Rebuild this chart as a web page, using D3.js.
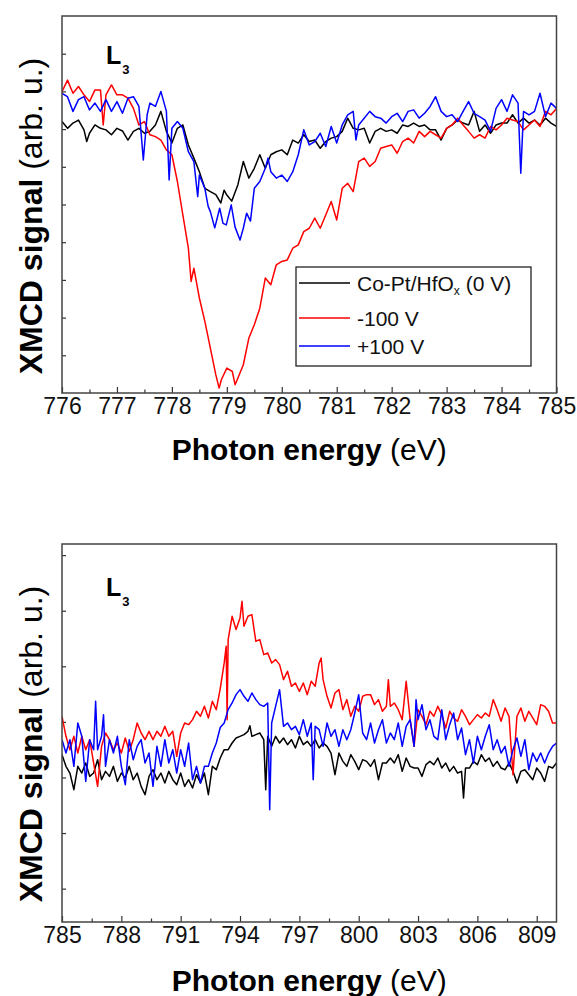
<!DOCTYPE html>
<html><head><meta charset="utf-8">
<script src="https://cdn.jsdelivr.net/npm/d3@7"></script>
<style>
body{margin:0;background:#fff}
svg{display:block}
text{font-family:"Liberation Sans",Arial,Helvetica,sans-serif}
</style>
</head><body>
<svg id="chart" width="577" height="996"></svg>
<script>
// ---------- data ----------
const seriesNames = ["Co-Pt/HfO", "-100 V", "+100 V"];
const seriesColors = ["#000000", "#ff0000", "#0000ff"];

const topTicks = [776, 777, 778, 779, 780, 781, 782, 783, 784, 785];
const topMinorTicks = [776.5, 777.5, 778.5, 779.5, 780.5, 781.5, 782.5, 783.5, 784.5];
const topYTicks = [1, 2, 3, 4, 5, 6, 7, 8, 9];
const bottomTicks = [785, 788, 791, 794, 797, 800, 803, 806, 809];
const bottomMinorTicks = [786.5, 789.5, 792.5, 795.5, 798.5, 801.5, 804.5, 807.5];
const bottomYTicks = [0, 1, 2, 3, 4, 5, 6];

// L3 edge (776-785 eV)
const topBlack = [[776.0,7.20],[776.1,7.02],[776.2,7.16],[776.3,7.24],[776.4,6.98],[776.45,6.67],[776.5,6.89],[776.6,7.11],[776.7,7.02],[776.8,6.98],[776.9,6.85],[777.0,7.02],[777.1,6.95],[777.2,6.71],[777.3,6.94],[777.4,7.02],[777.5,6.89],[777.6,6.94],[777.7,7.11],[777.8,7.47],[777.9,6.94],[778.0,6.63],[778.1,7.02],[778.2,7.11],[778.3,6.58],[778.4,6.23],[778.5,5.87],[778.6,5.43],[778.7,5.34],[778.8,5.26],[778.89,5.04],[778.95,5.38],[779.0,5.25],[779.09,5.09],[779.2,5.52],[779.3,6.14],[779.4,5.7],[779.5,5.96],[779.6,6.32],[779.7,5.96],[779.8,6.32],[779.9,6.4],[780.0,6.45],[780.1,6.32],[780.2,6.71],[780.3,6.63],[780.4,6.85],[780.5,6.67],[780.6,6.71],[780.7,6.49],[780.8,6.67],[780.9,6.76],[781.0,6.8],[781.1,6.94],[781.2,7.29],[781.3,7.02],[781.4,6.98],[781.5,7.02],[781.6,6.63],[781.7,6.94],[781.8,7.02],[781.9,6.94],[782.0,6.98],[782.1,6.89],[782.2,7.11],[782.3,7.07],[782.4,7.16],[782.5,7.07],[782.6,7.11],[782.7,6.98],[782.8,6.98],[782.9,6.71],[783.0,7.02],[783.1,7.11],[783.2,7.24],[783.3,7.16],[783.4,7.11],[783.5,7.47],[783.6,6.94],[783.7,7.11],[783.8,6.89],[783.9,7.11],[784.0,7.16],[784.1,7.16],[784.2,7.38],[784.3,7.16],[784.4,7.29],[784.5,7.16],[784.6,7.24],[784.7,7.11],[784.8,7.29],[784.9,7.16],[785.0,7.07]];
const topRed = [[776.0,7.99],[776.1,8.3],[776.2,7.95],[776.3,8.13],[776.4,7.91],[776.5,7.73],[776.6,8.04],[776.7,8.04],[776.75,7.11],[776.8,7.91],[776.9,8.17],[777.0,7.91],[777.1,7.91],[777.2,7.82],[777.3,7.55],[777.4,7.11],[777.5,7.2],[777.6,6.85],[777.7,6.8],[777.8,6.71],[777.9,6.45],[778.0,6.32],[778.1,5.61],[778.2,4.72],[778.3,3.84],[778.35,2.96],[778.4,3.31],[778.5,2.52],[778.6,1.9],[778.7,1.19],[778.8,0.48],[778.86,0.13],[778.9,0.35],[779.0,0.66],[779.1,0.57],[779.15,0.22],[779.2,0.39],[779.3,0.75],[779.4,1.45],[779.5,1.81],[779.6,2.25],[779.7,3.05],[779.8,2.87],[779.9,3.4],[780.0,3.49],[780.1,3.53],[780.2,3.84],[780.3,3.93],[780.4,4.28],[780.5,4.37],[780.6,4.64],[780.7,4.37],[780.8,4.72],[780.9,5.08],[781.0,4.59],[781.1,5.43],[781.2,5.56],[781.3,5.34],[781.4,6.14],[781.5,6.23],[781.6,6.01],[781.7,6.14],[781.8,6.49],[781.9,6.54],[782.0,6.58],[782.1,6.36],[782.2,6.67],[782.3,6.76],[782.4,6.63],[782.5,6.94],[782.6,6.8],[782.7,6.94],[782.8,6.85],[782.9,6.76],[783.0,7.02],[783.1,7.11],[783.2,7.29],[783.3,7.11],[783.4,6.94],[783.5,6.76],[783.6,6.85],[783.7,6.76],[783.8,7.07],[783.9,6.98],[784.0,7.11],[784.1,7.29],[784.2,7.24],[784.3,7.2],[784.4,6.98],[784.5,7.11],[784.6,7.24],[784.7,7.07],[784.8,7.47],[784.9,7.38],[785.0,7.55]];
const topBlue = [[776.0,7.95],[776.1,7.86],[776.2,7.47],[776.3,7.78],[776.4,7.86],[776.5,7.51],[776.6,7.69],[776.7,7.47],[776.8,7.78],[776.9,7.47],[777.0,7.73],[777.1,7.42],[777.2,7.82],[777.3,7.86],[777.4,7.6],[777.48,6.18],[777.55,7.38],[777.6,7.69],[777.7,7.6],[777.8,8.0],[777.9,7.47],[777.95,5.65],[778.0,7.02],[778.1,7.2],[778.2,7.02],[778.3,6.4],[778.4,6.14],[778.47,5.21],[778.5,5.78],[778.6,5.43],[778.66,4.95],[778.7,4.81],[778.78,4.38],[778.87,4.9],[778.93,4.5],[778.99,4.46],[779.08,4.99],[779.15,4.4],[779.24,4.06],[779.3,4.37],[779.36,4.77],[779.43,4.56],[779.5,5.43],[779.6,5.61],[779.7,5.96],[779.75,6.23],[779.8,5.87],[779.9,5.7],[780.0,5.78],[780.1,5.61],[780.2,5.87],[780.3,6.32],[780.4,6.98],[780.5,6.58],[780.6,6.67],[780.7,6.89],[780.8,6.54],[780.9,7.07],[781.0,6.63],[781.1,7.11],[781.2,7.38],[781.3,7.47],[781.35,6.71],[781.4,7.11],[781.5,7.29],[781.6,7.47],[781.7,7.33],[781.8,7.29],[781.9,7.16],[782.0,7.33],[782.1,7.42],[782.2,7.2],[782.3,7.47],[782.4,7.51],[782.5,7.29],[782.6,7.42],[782.7,7.6],[782.8,7.86],[782.9,7.47],[783.0,7.33],[783.1,7.38],[783.2,7.2],[783.3,7.47],[783.4,7.73],[783.5,7.42],[783.6,7.33],[783.7,7.24],[783.8,6.94],[783.9,7.55],[784.0,7.78],[784.1,7.47],[784.2,7.91],[784.3,7.69],[784.35,5.83],[784.4,7.47],[784.5,7.38],[784.6,7.47],[784.7,7.95],[784.8,7.33],[784.9,7.69],[785.0,7.55]];

// 785-810 eV
const botBlack = [[785.0,2.41],[785.2,2.2],[785.4,2.08],[785.6,1.78],[785.8,2.2],[786.0,2.08],[786.2,2.26],[786.4,2.02],[786.6,2.08],[786.8,2.32],[787.0,1.96],[787.2,2.11],[787.4,2.02],[787.6,2.2],[787.8,1.93],[788.0,2.08],[788.2,1.99],[788.4,2.2],[788.6,1.96],[788.8,2.08],[789.0,1.84],[789.2,1.69],[789.4,2.02],[789.6,2.14],[789.8,1.96],[790.0,2.08],[790.2,1.9],[790.4,2.11],[790.6,1.96],[790.8,1.87],[791.0,2.08],[791.2,1.84],[791.4,1.96],[791.6,1.81],[791.8,2.05],[792.0,1.9],[792.2,2.08],[792.4,1.69],[792.6,2.2],[792.8,2.14],[793.0,2.35],[793.2,2.5],[793.4,2.5],[793.6,2.62],[793.8,2.71],[794.0,2.74],[794.2,2.77],[794.4,2.83],[794.5,2.93],[794.6,2.74],[794.8,2.77],[795.0,2.8],[795.2,2.68],[795.3,1.78],[795.4,2.74],[795.6,2.56],[795.8,2.74],[796.0,2.62],[796.2,2.71],[796.4,2.59],[796.6,2.68],[796.8,2.53],[797.0,2.74],[797.2,2.59],[797.4,2.65],[797.6,2.56],[797.8,2.68],[798.0,2.53],[798.2,2.62],[798.4,2.56],[798.6,2.44],[798.8,2.05],[799.0,2.44],[799.2,2.29],[799.4,2.2],[799.6,2.41],[799.8,2.29],[800.0,2.14],[800.2,2.32],[800.4,2.29],[800.6,2.2],[800.8,2.32],[801.0,1.96],[801.2,2.26],[801.4,2.26],[801.6,2.35],[801.8,2.26],[802.0,2.41],[802.2,2.11],[802.4,2.35],[802.6,2.2],[802.8,2.17],[803.0,2.17],[803.2,2.02],[803.4,2.23],[803.6,2.29],[803.8,2.23],[804.0,2.35],[804.2,2.17],[804.4,2.26],[804.6,2.11],[804.8,2.2],[805.0,2.08],[805.2,2.11],[805.3,1.63],[805.4,2.17],[805.6,2.17],[805.8,2.29],[806.0,2.23],[806.2,2.41],[806.4,2.29],[806.6,2.35],[806.8,2.2],[807.0,2.29],[807.2,2.17],[807.4,2.14],[807.6,2.26],[807.8,2.11],[808.0,1.9],[808.2,2.11],[808.4,2.14],[808.6,2.05],[808.8,1.96],[809.0,2.17],[809.2,2.08],[809.4,1.93],[809.6,2.2],[809.8,2.17],[810.0,2.26]];
const botRed = [[785.0,3.1],[785.2,2.74],[785.4,2.5],[785.6,2.74],[785.8,2.44],[786.0,2.74],[786.2,2.5],[786.4,2.68],[786.6,2.26],[786.8,1.84],[787.0,2.56],[787.2,2.8],[787.4,2.68],[787.6,2.5],[787.8,2.62],[788.0,2.44],[788.2,2.71],[788.4,2.47],[788.6,2.68],[788.8,2.98],[789.0,2.8],[789.2,2.68],[789.4,2.83],[789.6,2.68],[789.8,2.83],[790.0,2.74],[790.2,2.92],[790.4,2.74],[790.6,2.83],[790.8,2.38],[791.0,2.8],[791.2,2.98],[791.4,2.95],[791.6,3.04],[791.8,3.19],[792.0,3.1],[792.2,3.28],[792.4,3.07],[792.6,3.37],[792.8,3.22],[793.0,3.6],[793.2,4.06],[793.3,4.36],[793.35,3.04],[793.4,4.48],[793.6,4.9],[793.8,4.66],[794.0,4.87],[794.1,5.17],[794.2,4.72],[794.4,4.9],[794.6,4.93],[794.8,4.45],[795.0,4.48],[795.2,4.21],[795.4,4.24],[795.6,4.06],[795.8,4.12],[796.0,4.03],[796.2,3.76],[796.4,3.91],[796.6,3.64],[796.8,3.7],[797.0,3.55],[797.2,3.7],[797.4,3.49],[797.6,3.73],[797.8,3.64],[798.0,4.06],[798.1,4.15],[798.2,3.76],[798.4,3.46],[798.6,3.25],[798.8,3.52],[799.0,3.58],[799.2,3.22],[799.4,3.4],[799.6,3.1],[799.8,3.28],[800.0,3.19],[800.2,3.46],[800.4,3.49],[800.6,3.49],[800.8,3.31],[801.0,3.4],[801.2,3.19],[801.4,3.28],[801.5,3.76],[801.6,3.28],[801.8,3.34],[802.0,3.22],[802.2,3.04],[802.4,3.73],[802.6,3.04],[802.8,2.56],[803.0,3.22],[803.2,3.1],[803.4,2.95],[803.6,3.19],[803.8,3.1],[804.0,3.28],[804.2,3.13],[804.4,2.89],[804.6,3.19],[804.8,3.07],[805.0,3.01],[805.2,3.22],[805.4,3.1],[805.6,2.95],[805.8,3.04],[806.0,3.13],[806.2,3.07],[806.4,3.16],[806.6,3.1],[806.8,3.4],[807.0,3.22],[807.2,3.01],[807.4,3.25],[807.6,3.1],[807.8,2.05],[808.0,3.1],[808.2,3.25],[808.4,3.01],[808.6,3.19],[808.8,3.07],[809.0,2.95],[809.2,3.31],[809.4,3.28],[809.6,3.19],[809.8,2.98],[810.0,2.98]];
const botBlue = [[785.0,2.68],[785.2,2.44],[785.4,2.68],[785.6,2.2],[785.8,2.98],[786.0,2.74],[786.2,1.93],[786.4,2.68],[786.6,2.5],[786.7,3.37],[786.8,2.5],[787.0,2.74],[787.1,3.13],[787.2,2.2],[787.4,2.68],[787.6,2.44],[787.8,2.74],[788.0,2.2],[788.2,1.87],[788.4,2.68],[788.6,2.32],[788.8,2.56],[789.0,2.68],[789.2,2.26],[789.4,2.44],[789.6,1.84],[789.8,2.56],[790.0,2.2],[790.2,2.68],[790.4,2.26],[790.6,2.5],[790.8,2.08],[791.0,2.5],[791.2,2.2],[791.4,2.62],[791.6,1.96],[791.8,2.2],[792.0,1.9],[792.2,2.2],[792.4,2.2],[792.6,2.44],[792.8,2.62],[793.0,2.9],[793.2,2.98],[793.4,3.22],[793.6,3.34],[793.8,3.49],[794.0,3.58],[794.2,3.46],[794.4,3.37],[794.6,3.52],[794.8,3.4],[795.0,3.31],[795.2,3.28],[795.4,3.34],[795.5,1.42],[795.6,2.98],[795.8,3.28],[796.0,3.58],[796.2,2.92],[796.4,2.98],[796.6,2.86],[796.8,2.92],[797.0,2.77],[797.2,3.04],[797.4,2.74],[797.6,2.98],[797.7,1.96],[797.8,2.92],[798.0,2.86],[798.2,2.56],[798.4,2.98],[798.6,2.74],[798.8,2.86],[799.0,2.56],[799.2,2.86],[799.4,2.68],[799.6,2.86],[799.8,3.16],[800.0,3.49],[800.2,2.8],[800.4,2.68],[800.6,2.98],[800.8,2.62],[801.0,2.86],[801.2,3.04],[801.4,2.62],[801.6,2.8],[801.8,2.68],[802.0,2.98],[802.2,2.56],[802.4,2.92],[802.6,3.04],[802.8,2.56],[802.9,3.4],[803.0,3.04],[803.2,3.31],[803.4,2.86],[803.6,3.04],[803.8,2.74],[804.0,2.68],[804.2,3.22],[804.4,2.68],[804.6,2.95],[804.8,3.16],[805.0,2.68],[805.2,2.89],[805.4,2.41],[805.6,2.68],[805.8,2.26],[806.0,2.74],[806.2,2.5],[806.4,2.74],[806.6,2.95],[806.8,2.5],[807.0,2.68],[807.2,2.44],[807.4,2.56],[807.6,2.2],[807.8,2.5],[808.0,2.71],[808.2,2.38],[808.4,2.68],[808.6,2.14],[808.8,2.44],[809.0,2.29],[809.2,2.44],[809.4,2.26],[809.6,2.44],[809.8,2.56],[810.0,2.62]];

// ---------- layout ----------
const svg = d3.select("#chart");
const panels = [
  {xDomain:[776,785], yDomain:[0,10], left:62, right:556.5, top:16, bottom:393,
   ticks:topTicks, minor:topMinorTicks, yTicks:topYTicks,
   series:[topBlack, topRed, topBlue], legend:true,
   titleY:460, yTitleCenter:216, label:{x:106, y:64, size:25, sub:13}},
  {xDomain:[785,810], yDomain:[-0.6,6.2], left:62, right:556.5, top:544, bottom:922,
   ticks:bottomTicks, minor:bottomMinorTicks, yTicks:bottomYTicks,
   series:[botBlack, botRed, botBlue], legend:false,
   titleY:991, yTitleCenter:744, label:{x:106, y:596, size:25, sub:13}}
];

panels.forEach((p, i) => {
  const x = d3.scaleLinear().domain(p.xDomain).range([p.left, p.right]);
  const y = d3.scaleLinear().domain(p.yDomain).range([p.bottom, p.top]);
  const g = svg.append("g");

  g.append("clipPath").attr("id", "clip" + i).append("rect")
    .attr("x", p.left).attr("y", p.top)
    .attr("width", p.right - p.left).attr("height", p.bottom - p.top);

  // minor x ticks
  g.append("g").attr("transform", `translate(0,${p.bottom})`)
    .call(d3.axisBottom(x).tickValues(p.minor).tickSize(-3.5).tickFormat(""))
    .call(a => a.select(".domain").remove())
    .call(a => a.selectAll("line").attr("stroke", "#333").attr("stroke-width", 1.2));
  // major x ticks + labels
  g.append("g").attr("transform", `translate(0,${p.bottom})`)
    .call(d3.axisBottom(x).tickValues(p.ticks).tickSize(-6).tickPadding(5).tickFormat(d3.format("d")))
    .call(a => a.select(".domain").remove())
    .call(a => a.selectAll("line").attr("stroke", "#333").attr("stroke-width", 1.2))
    .call(a => a.selectAll("text").attr("font-size", "23px").attr("fill", "#111")
      .attr("font-family", '"Liberation Sans",Arial,sans-serif'));
  // y ticks (no labels)
  g.append("g").attr("transform", `translate(${p.left},0)`)
    .call(d3.axisLeft(y).tickValues(p.yTicks).tickSize(-4).tickFormat(""))
    .call(a => a.select(".domain").remove())
    .call(a => a.selectAll("line").attr("stroke", "#333").attr("stroke-width", 1.2));

  // data lines
  const line = d3.line().x(d => x(d[0])).y(d => y(d[1]));
  const lines = g.append("g").attr("clip-path", `url(#clip${i})`);
  p.series.forEach((s, k) => {
    lines.append("path").datum(s).attr("d", line)
      .attr("fill", "none").attr("stroke", seriesColors[k])
      .attr("stroke-width", 1.5).attr("stroke-linejoin", "round");
  });

  // frame
  g.append("rect").attr("x", p.left).attr("y", p.top)
    .attr("width", p.right - p.left).attr("height", p.bottom - p.top)
    .attr("fill", "none").attr("stroke", "#444").attr("stroke-width", 1.5);

  // L3 label
  const lt = g.append("text").attr("x", p.label.x).attr("y", p.label.y)
    .attr("font-weight", "bold").attr("font-size", p.label.size + "px").attr("fill", "#000");
  lt.append("tspan").text("L");
  lt.append("tspan").attr("font-size", p.label.sub + "px").attr("dx", 1)
    .attr("dy", p.label.sub * 0.75).text("3");

  // x title
  const xt = g.append("text").attr("x", (p.left + p.right) / 2).attr("y", p.titleY)
    .attr("text-anchor", "middle").attr("font-size", "30px").attr("fill", "#000");
  xt.append("tspan").attr("font-weight", "bold").text("Photon energy");
  xt.append("tspan").text(" (eV)");

  // y title
  const yt = g.append("text")
    .attr("transform", `translate(42,${p.yTitleCenter}) rotate(-90)`)
    .attr("text-anchor", "middle").attr("font-size", "32px").attr("fill", "#000");
  yt.append("tspan").attr("font-weight", "bold").text("XMCD signal");
  yt.append("tspan").text(" (arb. u.)");

  // legend
  if (p.legend) {
    const lg = g.append("g");
    lg.append("rect").attr("x", 296).attr("y", 267).attr("width", 235).attr("height", 99)
      .attr("fill", "#fff").attr("stroke", "#222").attr("stroke-width", 1.3);
    const rows = [283, 318, 346];
    seriesNames.forEach((name, k) => {
      lg.append("line").attr("x1", 299).attr("x2", 350).attr("y1", rows[k]).attr("y2", rows[k])
        .attr("stroke", seriesColors[k]).attr("stroke-width", 1.5);
      const t = lg.append("text").attr("x", 357).attr("y", rows[k] + 8)
        .attr("font-size", "21px").attr("fill", "#111");
      t.append("tspan").text(name);
      if (k === 0) {
        t.append("tspan").attr("font-size", "12px").attr("dy", 4).text("x");
        t.append("tspan").attr("dy", -4).text(" (0 V)");
      }
    });
  }
});
</script>
</body></html>
